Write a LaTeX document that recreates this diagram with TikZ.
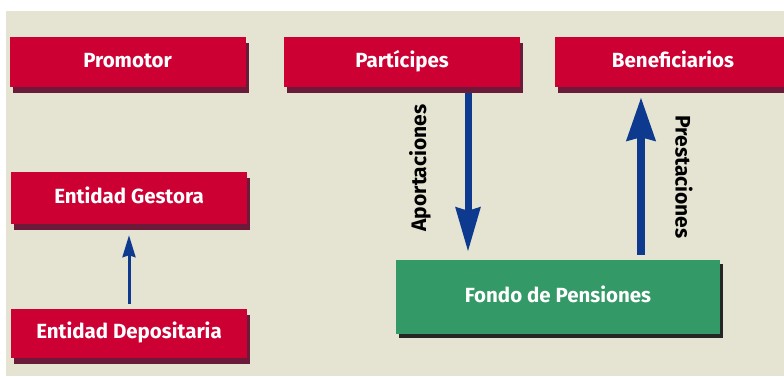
\documentclass[tikz,border=0pt]{standalone}
\usepackage{fontspec}
\setmainfont{Fira Sans}
\usetikzlibrary{arrows.meta,shadows}
\definecolor{bgc}{HTML}{E5E4D3}
\definecolor{boxred}{HTML}{CC0033}
\definecolor{shred}{HTML}{6B1A3A}
\definecolor{boxgreen}{HTML}{339966}
\definecolor{arrblue}{HTML}{0D3A8E}
\begin{document}
\begin{tikzpicture}[x=1pt,y=-1pt,
  boxtext/.style={font=\fontsize{20.5}{20.5}\selectfont\bfseries, text=white,
    text height=14pt, text depth=4pt},
  redbox/.style={boxtext, fill=boxred, minimum width=236pt, minimum height=50pt, inner sep=0pt,
    general shadow={fill=shred, shadow xshift=3pt, shadow yshift=-6pt}},
  greenbox/.style={boxtext, fill=boxgreen, minimum width=324pt, minimum height=74pt, inner sep=0pt,
    general shadow={fill=black!85, shadow xshift=3pt, shadow yshift=-4pt}},
  flowlabel/.style={font=\fontsize{21}{21}\selectfont\bfseries, text=black, inner sep=0pt},
  arr/.style={draw=arrblue}]
\clip (0,0) rectangle (784,376);
\fill[white] (0,0) rectangle (784,376);
\fill[bgc] (6,11) rectangle (784,376);
\node[redbox] (prom) at (127.5,62) {Promotor};
\node[redbox] (part) at (402,62) {Partícipes};
\node[redbox] (bene) at (673,62) {Beneficiarios};
\node[redbox, minimum height=52pt] (gest) at (129,198) {Entidad Gestora};
\node[redbox, minimum height=49pt] (depo) at (129,333.5) {Entidad Depositaria};
\node[greenbox] (fondo) at (558,297) {Fondo de Pensiones};
\coordinate (xa) at (468,0);
\coordinate (xb) at (641,0);
\draw[arr, line width=7pt, -{Stealth[length=44pt,width=24pt,inset=3pt]}, shorten <=6pt, shorten >=8pt]
  (part.south -| xa) -- (fondo.north -| xa);
\draw[arr, line width=8pt, -{Stealth[length=43pt,width=28pt,inset=3pt]}, shorten <=5pt, shorten >=10pt]
  (fondo.north -| xb) -- (bene.south -| xb);
\draw[arr, line width=3pt, -{Stealth[length=22pt,width=13pt,inset=2pt]}, shorten <=5pt, shorten >=11pt]
  (depo.north) -- (gest.south);
\node[flowlabel, rotate=90] (apo) at (420,168) {Aportaciones};
\node[flowlabel, rotate=-90] (pre) at (684,177) {Prestaciones};
\end{tikzpicture}
\end{document}
